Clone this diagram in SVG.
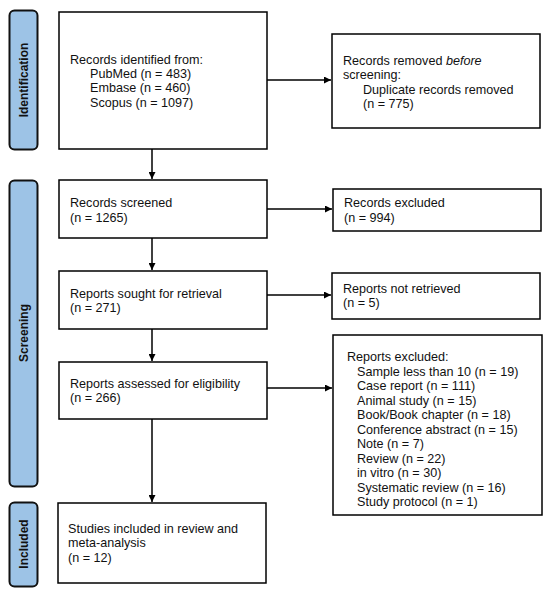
<svg xmlns="http://www.w3.org/2000/svg" width="550" height="592" viewBox="0 0 550 592">
<style>
.box{fill:#fff;stroke:#000;stroke-width:1.5}
.lab{fill:#9dc3e6;stroke:#111;stroke-width:2}
text{font-family:"Liberation Sans",Arial,sans-serif;font-size:12.6px;fill:#111}
.lt{font-weight:bold;font-size:12px;text-anchor:middle}
.con{stroke:#000;stroke-width:1.5;fill:none;marker-end:url(#ah)}
</style>
<defs>
<marker id="ah" viewBox="0 0 10 10" refX="10" refY="5" markerWidth="7" markerHeight="7" markerUnits="userSpaceOnUse" orient="auto">
<path d="M0,0 L10,5 L0,10 z" fill="#000"/>
</marker>
</defs>
<rect width="550" height="592" fill="#fff"/>
<g id="label-identification">
<rect class="lab" x="9.5" y="10.5" width="28" height="139" rx="5"/>
<text class="lt" transform="translate(28,80) rotate(-90)">Identification</text>
</g>
<g id="label-screening">
<rect class="lab" x="9.5" y="180.5" width="28" height="306" rx="5"/>
<text class="lt" transform="translate(28,333) rotate(-90)">Screening</text>
</g>
<g id="label-included">
<rect class="lab" x="9.5" y="502.5" width="28" height="84" rx="5"/>
<text class="lt" transform="translate(28,544) rotate(-90)">Included</text>
</g>
<g id="n-identified">
<rect class="box" x="59" y="12" width="208" height="137"/>
<text x="70" y="64">Records identified from:</text>
<text x="90" y="78">PubMed (n = 483)</text>
<text x="90" y="92">Embase (n = 460)</text>
<text x="90" y="107">Scopus (n = 1097)</text>
</g>
<g id="n-removed">
<rect class="box" x="332" y="34" width="208" height="94"/>
<text x="343" y="65">Records removed <tspan font-style="italic">before</tspan></text>
<text x="343" y="79">screening:</text>
<text x="363" y="94">Duplicate records removed</text>
<text x="363" y="108">(n = 775)</text>
</g>
<g id="n-screened">
<rect class="box" x="59" y="180" width="208" height="58"/>
<text x="70" y="207">Records screened</text>
<text x="70" y="222">(n = 1265)</text>
</g>
<g id="n-excluded">
<rect class="box" x="333" y="189" width="208" height="42"/>
<text x="344" y="207">Records excluded</text>
<text x="344" y="222">(n = 994)</text>
</g>
<g id="n-sought">
<rect class="box" x="59" y="271" width="208" height="58"/>
<text x="70" y="298">Reports sought for retrieval</text>
<text x="70" y="312">(n = 271)</text>
</g>
<g id="n-notretrieved">
<rect class="box" x="332" y="273" width="208" height="46"/>
<text x="343" y="293">Reports not retrieved</text>
<text x="343" y="307">(n = 5)</text>
</g>
<g id="n-assessed">
<rect class="box" x="59" y="362" width="208" height="57"/>
<text x="70" y="388">Reports assessed for eligibility</text>
<text x="70" y="402">(n = 266)</text>
</g>
<g id="n-reportsexcluded">
<rect class="box" x="333" y="335" width="209" height="180"/>
<text x="347" y="361">Reports excluded:</text>
<text x="357" y="375.5">Sample less than 10 (n = 19)</text>
<text x="357" y="390">Case report (n = 111)</text>
<text x="357" y="404.5">Animal study (n = 15)</text>
<text x="357" y="419">Book/Book chapter (n = 18)</text>
<text x="357" y="433.5">Conference abstract (n = 15)</text>
<text x="357" y="448">Note (n = 7)</text>
<text x="357" y="462.5">Review (n = 22)</text>
<text x="357" y="477">in vitro (n = 30)</text>
<text x="357" y="491.5">Systematic review (n = 16)</text>
<text x="357" y="506">Study protocol (n = 1)</text>
</g>
<g id="n-included">
<rect class="box" x="58" y="503" width="208" height="80"/>
<text x="68" y="533">Studies included in review and</text>
<text x="68" y="547">meta-analysis</text>
<text x="68" y="562">(n = 12)</text>
</g>
<g id="connectors">
<path class="con" d="M267,80 H331"/>
<path class="con" d="M152,149 V179"/>
<path class="con" d="M267,209 H332"/>
<path class="con" d="M152,238 V270"/>
<path class="con" d="M267,295 H331"/>
<path class="con" d="M152,329 V361"/>
<path class="con" d="M267,388 H332"/>
<path class="con" d="M152,419 V502"/>
</g>
</svg>
